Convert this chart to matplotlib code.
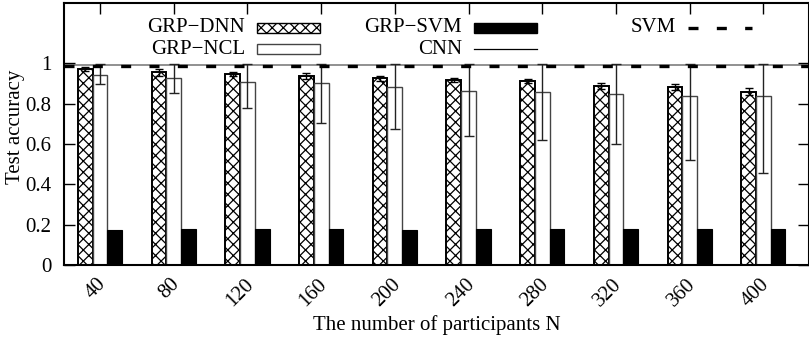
import numpy as np
import matplotlib
matplotlib.use('Agg')
import matplotlib.pyplot as plt
from matplotlib.patches import Rectangle
from matplotlib.lines import Line2D
from matplotlib.transforms import ScaledTranslation

plt.rcParams['font.family'] = ['Liberation Serif', 'DejaVu Serif']
plt.rcParams['hatch.linewidth'] = 0.9

participants = ['40', '80', '120', '160', '200', '240', '280', '320', '360', '400']

# GRP-DNN mean and +/- spread
dnn = [0.971, 0.956, 0.946, 0.938, 0.927, 0.918, 0.913, 0.888, 0.882, 0.860]
dnn_err = [0.010, 0.017, 0.010, 0.013, 0.013, 0.009, 0.008, 0.014, 0.015, 0.017]

# GRP-NCL mean with min / max
ncl = [0.943, 0.926, 0.910, 0.902, 0.882, 0.864, 0.857, 0.849, 0.840, 0.839]
ncl_min = [0.897, 0.852, 0.781, 0.703, 0.675, 0.640, 0.620, 0.599, 0.521, 0.455]
ncl_max = [0.998, 0.998, 0.998, 0.998, 0.998, 0.998, 0.998, 0.998, 0.998, 0.998]

grp_svm = [0.174, 0.179, 0.177, 0.178, 0.175, 0.177, 0.177, 0.177, 0.179, 0.179]

cnn_acc = 0.993
svm_acc = 0.987

W, H = 809, 341
fig = plt.figure(figsize=(W / 100, H / 100), dpi=100)
ax = fig.add_axes([64 / W, 1 - 265 / H, 745 / W, 262 / H])

x = np.arange(len(participants))
bw = 0.2

ax.bar(x - bw, dnn, bw, color='white', edgecolor='black', hatch='xxx', linewidth=1.4, zorder=2)
ax.errorbar(x - bw, dnn, yerr=dnn_err, fmt='none', ecolor='black', elinewidth=1.0,
            capsize=3, capthick=1.0, zorder=3)

ax.bar(x, ncl, bw, color='white', edgecolor='#444444', linewidth=1.0, zorder=2)
ncl_arr = np.array(ncl)
ax.errorbar(x, ncl, yerr=[ncl_arr - np.array(ncl_min), np.array(ncl_max) - ncl_arr],
            fmt='none', ecolor='#222222', elinewidth=1.0, capsize=3.5, capthick=1.0, zorder=3)

ax.bar(x + bw, grp_svm, bw, color='black', edgecolor='black', linewidth=0.8, zorder=2)

ax.axhline(cnn_acc, color='#888888', linewidth=1.3, zorder=1)
ax.axhline(svm_acc, color='black', linewidth=2.4, dashes=(3.0, 5.5), zorder=4)

ax.set_xlim(-0.49, 9.62)
ax.set_ylim(0, 1.30)
ax.set_yticks([0, 0.2, 0.4, 0.6, 0.8, 1.0])
ax.set_yticklabels(['0', '0.2', '0.4', '0.6', '0.8', '1'])
ax.set_xticks(x)
ax.set_xticklabels(participants, rotation=45, ha='right', va='top')

ax.tick_params(axis='both', direction='in', length=8, width=1.0, labelsize=15,
               top=True, right=True)
ax.tick_params(axis='y', pad=9)
ax.tick_params(axis='x', pad=7)
for lab in ax.get_xticklabels():
    lab.set_transform(lab.get_transform() + ScaledTranslation(10 / 100, 0, fig.dpi_scale_trans))

for s in ax.spines.values():
    s.set_linewidth(1.5)

ax.set_xlabel('The number of participants N', fontsize=15)
ax.xaxis.set_label_coords(0.5, -0.19)
ax.set_ylabel('Test accuracy', fontsize=15)
ax.yaxis.set_label_coords(-0.053, 0.527)

# key, two rows of text right-aligned before each sample
tf = fig.transFigure


def fx(px):
    return px / W


def fy(py):
    return 1 - py / H


keys = [
    ('GRP\u2212DNN', 245, 28, 'hatch'),
    ('GRP\u2212NCL', 245, 49, 'white'),
    ('GRP\u2212SVM', 462, 28, 'black'),
    ('CNN', 462, 49, 'line'),
    ('SVM', 676, 28, 'dash'),
]
for label, tx, ty, kind in keys:
    fig.text(fx(tx), fy(ty), label, ha='right', va='center', fontsize=15, transform=tf)
    x0 = tx + 12
    if kind in ('hatch', 'white', 'black'):
        fc = 'black' if kind == 'black' else 'white'
        r = Rectangle((fx(x0), fy(ty + 5)), fx(63), 10 / H, transform=tf,
                      facecolor=fc, edgecolor='black' if kind != 'white' else '#444444',
                      hatch='xxx' if kind == 'hatch' else None, linewidth=1.0)
        fig.patches.append(r)
    elif kind == 'line':
        fig.lines.append(Line2D([fx(x0), fx(x0 + 63)], [fy(ty), fy(ty)], transform=tf,
                                color='black', linewidth=0.9))
    else:
        fig.lines.append(Line2D([fx(x0), fx(x0 + 64)], [fy(ty), fy(ty)], transform=tf,
                                color='black', linewidth=2.4, dashes=(3.0, 5.5)))

fig.savefig('out.png', dpi=100)
